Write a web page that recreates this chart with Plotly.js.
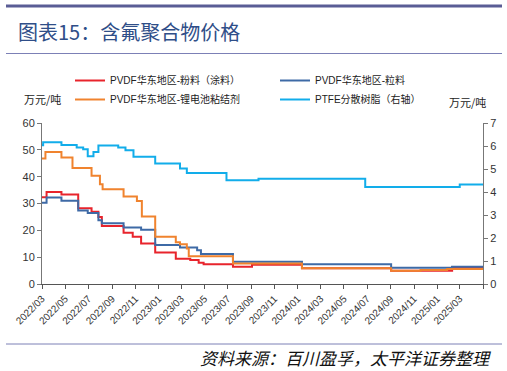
<!DOCTYPE html>
<html>
<head>
<meta charset="utf-8">
<script src="https://cdn.plot.ly/plotly-3.0.1.min.js"></script>
<style>
  html, body { margin: 0; padding: 0; background: #fff; }
  #chart { width: 507px; height: 371px; }
</style>
</head>
<body>
<div id="chart"></div>
<script>
// ---- Data (step changes) ----
const powderDates = ['2022-03-01','2022-03-13','2022-04-21','2022-06-04','2022-07-09','2022-07-27','2022-08-05','2022-10-01','2022-10-25','2022-11-16','2022-12-23','2023-02-15','2023-03-25','2023-04-16','2023-04-29','2023-07-15','2023-09-03','2024-01-12','2024-09-02','2025-02-09','2025-05-01'];
const powderValues = [32.3, 34.3, 33.4, 28.2, 26.9, 25.0, 21.6, 19.1, 17.6, 15.1, 11.7, 9.4, 8.9, 7.9, 7.4, 6.4, 7.2, 5.9, 4.9, 6.3, 6.3];

const pelletDates = ['2022-03-01','2022-03-13','2022-04-21','2022-06-04','2022-06-29','2022-07-27','2022-08-05','2022-10-01','2022-11-16','2022-12-23','2023-02-26','2023-04-12','2023-04-22','2023-07-15','2024-01-12','2024-09-02','2025-02-09','2025-05-01'];
const pelletValues = [30.3, 32.2, 31.0, 27.4, 26.5, 23.8, 22.6, 21.1, 20.2, 14.5, 13.6, 12.6, 11.2, 8.3, 7.4, 6.1, 6.4, 6.4];

const binderDates = ['2022-03-01','2022-03-10','2022-04-21','2022-05-20','2022-07-09','2022-07-31','2022-08-07','2022-10-01','2022-11-05','2022-11-18','2022-12-23','2023-02-15','2023-02-26','2023-03-16','2023-03-21','2023-07-15','2024-01-12','2024-09-02','2024-11-18','2025-01-27','2025-05-01'];
const binderValues = [46.8, 49.2, 47.1, 43.2, 40.3, 37.2, 35.3, 32.6, 30.9, 25.2, 17.6, 15.6, 14.8, 13.2, 10.3, 7.6, 5.9, 4.9, 5.2, 5.6, 5.6];

const ptfeDates = ['2022-03-01','2022-03-04','2022-04-21','2022-05-31','2022-06-17','2022-06-29','2022-07-14','2022-07-27','2022-09-17','2022-10-06','2022-10-27','2022-12-23','2023-02-26','2023-03-16','2023-06-28','2023-09-20','2024-06-26','2025-03-01','2025-05-01'];
const ptfeValues = [6.03, 6.16, 6.04, 5.94, 5.86, 5.55, 5.74, 6.02, 5.93, 5.82, 5.53, 5.24, 5.02, 4.83, 4.51, 4.58, 4.22, 4.33, 4.33];

const seriesNames = ['PVDF华东地区-粉料（涂料）', 'PVDF华东地区-粒料', 'PVDF华东地区-锂电池粘结剂', 'PTFE分散树脂（右轴）'];

const tickDates = ['2022-03-01','2022-05-01','2022-07-01','2022-09-01','2022-11-01','2023-01-01','2023-03-01','2023-05-01','2023-07-01','2023-09-01','2023-11-01','2024-01-01','2024-03-01','2024-05-01','2024-07-01','2024-09-01','2024-11-01','2025-01-01','2025-03-01','2025-05-01'];
const tickLabels = ['2022/03','2022/05','2022/07','2022/09','2022/11','2023/01','2023/03','2023/05','2023/07','2023/09','2023/11','2024/01','2024/03','2024/05','2024/07','2024/09','2024/11','2025/01','2025/03',''];

const titleText = '图表15：含氟聚合物价格';
const unitText = '万元/吨';
const sourceText = '资料来源：百川盈孚，太平洋证券整理';

// ---- Chart ----
const colors = ['#E8242C', '#3E6AA6', '#F0832E', '#12ADEA'];
const mk = (x, y, i, axis) => ({
  x: x, y: y, name: seriesNames[i], type: 'scatter', mode: 'lines',
  line: { color: colors[i], width: 2, shape: 'hv' },
  yaxis: axis, hoverinfo: 'skip'
});

const traces = [
  mk(powderDates, powderValues, 0, 'y'),
  mk(pelletDates, pelletValues, 1, 'y'),
  mk(binderDates, binderValues, 2, 'y'),
  mk(ptfeDates, ptfeValues, 3, 'y2')
];

const W = 507, H = 371, L = 42, R = 24, T = 123, B = 87;
const pw = W - L - R, ph = H - T - B;
const px = v => (v - L) / pw;
const py = v => (H - B - v) / ph;

const layout = {
  width: W, height: H,
  margin: { l: L, r: R, t: T, b: B },
  paper_bgcolor: '#fff', plot_bgcolor: '#fff',
  font: { family: 'Liberation Sans, Noto Sans CJK SC, sans-serif', color: '#333', size: 11 },
  title: {
    text: titleText, xref: 'container', yref: 'container',
    x: 18 / W, xanchor: 'left', y: 1 - 33 / H, yanchor: 'middle',
    font: { family: 'Noto Sans CJK SC, sans-serif', size: 20, color: '#2F4E88' }
  },
  showlegend: true,
  legend: {
    orientation: 'h', x: px(70), xanchor: 'left', y: py(66), yanchor: 'top',
    entrywidth: 160, entrywidthmode: 'pixels', tracegroupgap: 0,
    font: { family: 'Liberation Sans, Noto Sans CJK SC, sans-serif', size: 10, color: '#222' },
    bgcolor: 'rgba(0,0,0,0)'
  },
  xaxis: {
    type: 'date', range: ['2022-03-01', '2025-05-01'],
    tickmode: 'array', tickvals: tickDates, ticktext: tickLabels,
    tickangle: -45, ticks: 'outside', ticklen: 4, tickcolor: '#555',
    showline: true, linecolor: '#555', linewidth: 1,
    showgrid: false, zeroline: false,
    tickfont: { family: 'Liberation Sans, sans-serif', size: 10, color: '#333' }
  },
  yaxis: {
    range: [0, 60], dtick: 10, ticks: 'outside', ticklen: 4, tickcolor: '#777',
    showline: true, linecolor: '#777', linewidth: 1,
    showgrid: false, zeroline: false,
    tickfont: { family: 'Liberation Sans, sans-serif', size: 11, color: '#333' }
  },
  yaxis2: {
    range: [0, 7], dtick: 1, overlaying: 'y', side: 'right',
    ticks: 'outside', ticklen: 4, tickcolor: '#777',
    showline: true, linecolor: '#777', linewidth: 1,
    showgrid: false, zeroline: false,
    tickfont: { family: 'Liberation Sans, sans-serif', size: 11, color: '#333' }
  },
  shapes: [
    { type: 'line', xref: 'paper', yref: 'paper', x0: px(6), x1: px(502), y0: py(6), y1: py(6), line: { color: '#5A5D95', width: 3 } },
    { type: 'line', xref: 'paper', yref: 'paper', x0: px(6), x1: px(502), y0: py(53.5), y1: py(53.5), line: { color: '#7C80B6', width: 1 } },
    { type: 'line', xref: 'paper', yref: 'paper', x0: px(6), x1: px(502), y0: py(344), y1: py(344), line: { color: '#7C80B6', width: 1 } }
  ],
  annotations: [
    { text: unitText, xref: 'paper', yref: 'paper', x: px(22), xanchor: 'left', y: py(99), yanchor: 'middle',
      showarrow: false, font: { family: 'Noto Sans CJK SC, sans-serif', size: 11, color: '#222' } },
    { text: unitText, xref: 'paper', yref: 'paper', x: px(447), xanchor: 'left', y: py(102), yanchor: 'middle',
      showarrow: false, font: { family: 'Noto Sans CJK SC, sans-serif', size: 11, color: '#222' } },
    { text: sourceText, xref: 'paper', yref: 'paper', x: px(493), xanchor: 'right', y: py(357), yanchor: 'middle',
      showarrow: false, font: { family: 'Noto Sans CJK SC, sans-serif', size: 17, color: '#111', style: 'italic' } }
  ]
};

Plotly.newPlot('chart', traces, layout, { displayModeBar: false, staticPlot: true });
</script>
</body>
</html>
